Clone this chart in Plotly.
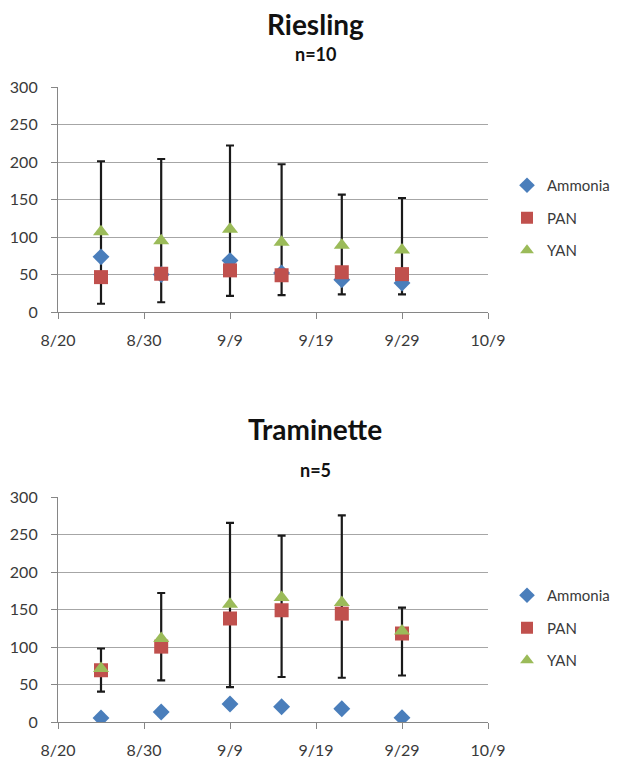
import plotly.graph_objects as go

dates = ["2010-08-25", "2010-09-01", "2010-09-09", "2010-09-15", "2010-09-22", "2010-09-29"]
tick_labels = ["8/20", "8/30", "9/9", "9/19", "9/29", "10/9"]
tick_vals = ["2010-08-20", "2010-08-30", "2010-09-09", "2010-09-19", "2010-09-29", "2010-10-09"]

# Riesling (n=10)
ries_ammonia = [73.5, 50, 68.5, 52, 43, 38.5]
ries_pan = [46.5, 51, 55.5, 49, 53, 50.5]
ries_yan = [107, 95, 110.5, 93, 89, 82.5]
ries_err_hi = [201, 204, 222, 197, 156.5, 152]
ries_err_lo = [11, 13, 21.5, 22.5, 23.5, 23.5]

# Traminette (n=5)
tram_ammonia = [5.3, 13.3, 24, 20.4, 17.7, 5.8]
tram_pan = [69, 100.5, 138, 149, 144.5, 118]
tram_yan = [71.5, 111.5, 157, 166, 159.5, 121.5]
tram_err_hi = [98, 172, 265.5, 248.5, 275.5, 152.5]
tram_err_lo = [40.5, 55.5, 46.5, 60, 59, 62]

BLUE = "#4A7EBB"
RED = "#C0504D"
GREEN = "#9BBB59"
FONT = "Lato"
TXT = "#3a3a3a"

# page has an 8px body margin: the figure is placed at (8, 8)
OFF = 8
W, H = 625 - OFF, 761 - OFF


def px(x):
    return (x - OFF) / W


def py(y):
    return 1 - (y - OFF) / H


fig = go.Figure()


def add_panel(idx, amm, pan, yan, hi, lo, legend_name):
    xa = "x" if idx == 1 else "x2"
    ya = "y" if idx == 1 else "y2"
    fig.add_trace(go.Scatter(
        x=dates, y=yan, mode="markers", xaxis=xa, yaxis=ya, showlegend=False,
        marker=dict(color="rgba(0,0,0,0)", size=1),
        error_y=dict(type="data", symmetric=False,
                     array=[h - y for h, y in zip(hi, yan)],
                     arrayminus=[y - l for l, y in zip(lo, yan)],
                     color="#1a1a1a", thickness=2.2, width=4),
        hoverinfo="skip"))
    fig.add_trace(go.Scatter(x=dates, y=amm, mode="markers", name="Ammonia", xaxis=xa, yaxis=ya,
                             legend=legend_name, legendgroup="a",
                             marker=dict(symbol="diamond", size=13, color=BLUE)))
    fig.add_trace(go.Scatter(x=dates, y=pan, mode="markers", name="PAN", xaxis=xa, yaxis=ya,
                             legend=legend_name, legendgroup="p",
                             marker=dict(symbol="square", size=14, color=RED)))
    fig.add_trace(go.Scatter(x=dates, y=yan, mode="markers", name="YAN", xaxis=xa, yaxis=ya,
                             legend=legend_name, legendgroup="y",
                             marker=dict(symbol="triangle-up", size=14, color=GREEN)))


add_panel(1, ries_ammonia, ries_pan, ries_yan, ries_err_hi, ries_err_lo, "legend")
add_panel(2, tram_ammonia, tram_pan, tram_yan, tram_err_hi, tram_err_lo, "legend2")

xdom = [px(58), px(488)]
top_dom = [py(312), py(87)]
bot_dom = [py(722), py(497)]

xaxis_common = dict(
    type="date", range=["2010-08-20", "2010-10-09"], tickvals=tick_vals, ticktext=tick_labels,
    showgrid=False, showline=True, linecolor="#868686", linewidth=1.2,
    ticks="outside", ticklen=6, tickcolor="#868686", ticklabelstandoff=8,
    tickfont=dict(family=FONT, size=16, color=TXT),
    zeroline=False, automargin=False, fixedrange=True)
yaxis_common = dict(
    range=[0, 300], dtick=50, showgrid=True, gridcolor="#a6a6a6", gridwidth=1.2,
    showline=True, linecolor="#868686", linewidth=1.2, ticks="outside", ticklen=6, tickcolor="#868686",
    ticklabelstandoff=10,
    tickfont=dict(family=FONT, size=16, color=TXT), zeroline=False, automargin=False)

legend_common = dict(font=dict(family=FONT, size=15, color=TXT), tracegroupgap=10,
                     traceorder="grouped", bgcolor="rgba(0,0,0,0)", xanchor="left", yanchor="middle",
                     itemsizing="constant")

fig.update_layout(
    width=W, height=H, margin=dict(l=0, r=0, t=0, b=0),
    paper_bgcolor="white", plot_bgcolor="white",
    xaxis=dict(domain=xdom, anchor="y", **xaxis_common),
    yaxis=dict(domain=top_dom, anchor="x", **yaxis_common),
    xaxis2=dict(domain=xdom, anchor="y2", **xaxis_common),
    yaxis2=dict(domain=bot_dom, anchor="x2", **yaxis_common),
    legend=dict(x=px(507), y=py(218), **legend_common),
    legend2=dict(x=px(507), y=py(628), **legend_common),
    annotations=[
        dict(text="<b>Riesling</b>", x=px(315), y=py(24), xref="paper", yref="paper", showarrow=False,
             font=dict(family=FONT, size=28, color="#111"), xanchor="center", yanchor="middle"),
        dict(text="<b>n=10</b>", x=px(315), y=py(54), xref="paper", yref="paper", showarrow=False,
             font=dict(family=FONT, size=18, color="#111"), xanchor="center", yanchor="middle"),
        dict(text="<b>Traminette</b>", x=px(315), y=py(429), xref="paper", yref="paper", showarrow=False,
             font=dict(family=FONT, size=28, color="#111"), xanchor="center", yanchor="middle"),
        dict(text="<b>n=5</b>", x=px(315), y=py(470), xref="paper", yref="paper", showarrow=False,
             font=dict(family=FONT, size=18, color="#111"), xanchor="center", yanchor="middle"),
    ],
)

fig.write_html("out.html")
